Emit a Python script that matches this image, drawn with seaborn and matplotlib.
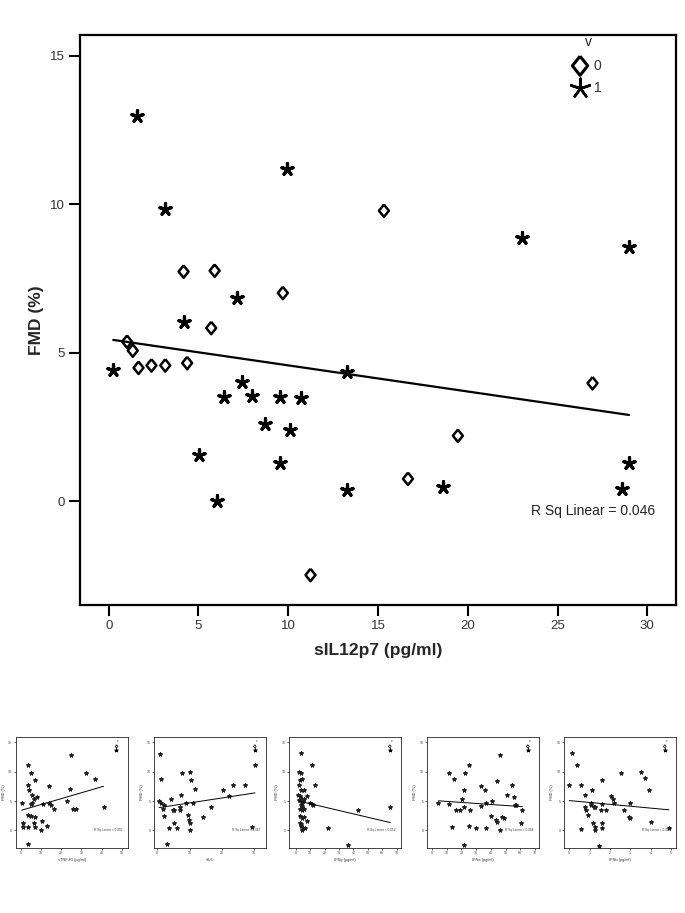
import matplotlib
matplotlib.use("Agg")
import matplotlib.pyplot as plt
import numpy as np
import pandas as pd
import seaborn as sns

# main panel: sIL12p7 vs FMD, split by v
star_x = [0.25, 1.56, 3.15, 4.22, 5.04, 6.05, 6.4, 7.17, 7.44, 7.97, 8.68, 9.55,
          9.55, 9.95, 10.12, 10.72, 13.28, 13.3, 18.6, 23.0, 28.6, 28.98, 28.98]
star_y = [4.42, 12.96, 9.83, 6.03, 1.56, 0.0, 3.5, 6.85, 4.0, 3.53, 2.6, 3.52,
          1.29, 11.2, 2.38, 3.46, 4.35, 0.38, 0.49, 8.86, 0.40, 1.28, 8.55]
diam_x = [1.02, 1.34, 1.66, 2.38, 3.15, 4.17, 4.37, 5.71, 5.9, 9.7, 11.24,
          15.33, 16.67, 19.45, 26.95]
diam_y = [5.37, 5.07, 4.49, 4.57, 4.57, 7.73, 4.65, 5.83, 7.76, 7.01, -2.49,
          9.78, 0.75, 2.2, 3.97]

# small panels (values read roughly off the thumbnails)
p1_x = [25.1, 3.9, 4.9, 7.0, 3.6, 13.9, 4.2, 24.3, 32.4, 36.6, 5.5, 7.9, 6.8, 0.6,
        4.9, 5.8, 11.0, 14.2, 15.0, 16.3, 22.7, 25.6, 27.5, 40.9, 3.7, 5.0, 7.0,
        1.1, 6.6, 10.7, 13.1, 1.0, 3.6, 7.1, 10.2, 3.9]
p1_y = [12.9, 11.1, 9.8, 8.6, 7.7, 7.6, 6.8, 7.0, 9.7, 8.8, 6.0, 5.7, 5.4, 4.6,
        4.5, 4.6, 4.5, 4.6, 4.3, 3.6, 5.0, 3.6, 3.6, 4.0, 2.6, 2.4, 2.3,
        1.3, 1.3, 1.6, 0.75, 0.5, 0.6, 0.5, 0.06, -2.4]
p2_x = [1.0, 1.25, 0.6, 1.15, 1.9, 2.1, 2.2, 2.9, 3.5, 4.4, 4.8, 5.2, 5.3, 6.25,
        7.1, 7.1, 7.3, 7.8, 9.0, 9.5, 9.7, 10.0, 10.2, 10.3, 10.2, 11.0, 11.6,
        14.2, 16.5, 20.4, 22.1, 23.3, 27.2, 29.3, 30.2]
p2_y = [13.0, 8.8, 5.0, 4.6, 3.6, 2.4, 4.4, -2.4, 0.35, 5.4, 3.45, 3.45, 1.3, 0.4,
        3.45, 4.0, 6.1, 9.8, 4.6, 2.6, 1.7, 1.2, 9.9, 8.5, 0.06, 4.6, 7.0,
        2.2, 4.0, 6.8, 5.8, 7.8, 7.7, 0.5, 11.2]
p3_x = [3.9, 11.0, 2.3, 3.7, 4.6, 2.8, 2.3, 3.9, 5.5, 13.3, 1.8, 3.0, 4.4, 6.0,
        7.8, 2.3, 3.2, 4.1, 5.1, 3.7, 4.6, 3.2, 4.1, 5.7, 9.7, 11.0, 12.0, 2.8,
        4.1, 5.5, 7.8, 3.2, 3.4, 3.7, 5.1, 6.7, 4.1, 22.5, 36.1, 43.4, 65.5]
p3_y = [13.1, 11.2, 9.9, 9.8, 8.8, 8.5, 7.7, 6.9, 6.8, 7.7, 6.1, 5.9, 5.4, 5.3,
        5.9, 5.1, 5.1, 4.7, 5.0, 4.4, 4.2, 3.6, 3.4, 3.7, 4.6, 4.45, 4.3, 2.4,
        2.1, 2.3, 1.56, 1.3, 1.1, 0.7, 0.35, 0.35, 0.1, 0.46, -2.5, 3.5, 4.0]
p4_x = [4.3, 11.6, 15.2, 25.2, 22.5, 11.8, 13.9, 16.4, 18.9, 20.7, 21.8, 21.6,
        25.2, 25.7, 30.0, 33.2, 33.6, 36.1, 36.8, 36.4, 39.8, 40.9, 43.4, 44.1,
        44.3, 46.1, 46.4, 47.3, 49.1, 50.9, 54.5, 55.5, 56.4, 57.3, 60.5, 61.4, 21.8]
p4_y = [4.6, 9.8, 8.8, 11.1, 9.7, 4.45, 0.5, 3.5, 3.5, 5.3, 6.9, 4.0,
        0.75, 3.4, 0.4, 4.1, 7.6, 6.8, 0.4, 4.6, 2.5, 5.0, 1.7, 1.4,
        8.4, 12.9, 0.06, 2.25, 2.1, 6.0, 7.7, 5.7, 4.3, 4.3, 1.3, 3.4, -2.5]
p5_x = [0.11, 0.38, 0.0, 0.56, 0.77, 1.11, 1.62, 0.79, 0.82, 0.9, 1.05, 1.08, 1.2,
        1.25, 1.57, 1.62, 1.79, 2.07, 2.16, 2.21, 2.52, 2.69, 2.98, 2.92, 2.98,
        3.52, 3.74, 3.9, 4.0, 4.9, 1.15, 1.25, 1.25, 1.6, 1.6, 0.57, 1.44]
p5_y = [13.1, 11.2, 7.8, 7.7, 6.0, 6.8, 8.6, 3.9, 3.5, 2.6, 4.35, 4.6, 4.0,
        4.0, 3.5, 4.5, 3.5, 5.8, 5.3, 4.6, 9.8, 3.5, 4.7, 2.2, 2.1,
        9.9, 8.9, 6.9, 1.5, 0.35, 1.3, 0.65, 0.0, 1.3, 0.47, 0.3, -2.6]

small_xlabels = ["sTNF-RI (pg/ml)", "sIL6", "IFNg (pg/ml)", "IFNa (pg/ml)", "IFNb (pg/ml)"]
small_r2 = ["0.092", "0.067", "0.052", "0.004", "0.014"]
small_xticks = [[0, 10, 20, 30, 40, 50], [0, 10, 20, 30], [0, 10, 20, 30, 40, 50, 60, 70],
                [0, 10, 20, 30, 40, 50, 60, 70], [0, 1, 2, 3, 4, 5]]
small_xlim = [(-2.4, 52.8), (-1.0, 33.6), (-4.6, 72.9), (-3.4, 72.7), (-0.26, 5.25)]

sns.set_style("white")
plt.rcParams['font.family'] = ['Liberation Sans', 'DejaVu Sans']

# SPSS-like markers: open diamond and a five-armed asterisk
tall_diamond = [(0, 1), (0.8, 0), (0, -1), (-0.8, 0), (0, 1)]
asterisk = (5, 2, 0)

df = pd.DataFrame({
    "x": star_x + diam_x,
    "y": star_y + diam_y,
    "v": ["1"] * len(star_x) + ["0"] * len(diam_x),
})

fig = plt.figure(figsize=(6.85, 9.13), dpi=100)
ax = fig.add_axes([80 / 685, 1 - 605 / 913, 596 / 685, 570 / 913])

sns.regplot(data=df, x="x", y="y", scatter=False, ci=None, ax=ax,
            line_kws=dict(color="black", lw=1.6))
sns.scatterplot(data=df[df.v == "0"], x="x", y="y", marker=tall_diamond, s=80,
                facecolor="none", edgecolor="black", linewidth=1.8, ax=ax)
sns.scatterplot(data=df[df.v == "1"], x="x", y="y", marker=asterisk, s=70,
                color="black", edgecolor="black", linewidth=2.3, ax=ax)

ax.set_xlim(-1.6, 31.6)
ax.set_ylim(-3.5, 15.7)
ax.set_xticks([0, 5, 10, 15, 20, 25, 30])
ax.set_yticks([0, 5, 10, 15])
ax.tick_params(direction="out", length=8, width=1.5, labelsize=9.5, colors="black",
               labelcolor="#333333", left=True, bottom=True, pad=3)
for s in ax.spines.values():
    s.set_linewidth(1.6)
    s.set_color("black")
ax.set_xlabel("sIL12p7 (pg/ml)", fontsize=12.5, fontweight="bold", labelpad=8)
ax.set_ylabel("FMD (%)", fontsize=12.5, fontweight="bold", labelpad=4)
ax.text(0.965, 0.165, "R Sq Linear = 0.046", transform=ax.transAxes, ha="right",
        va="center", fontsize=10, color="#222222")

# legend
ax.text(0.853, 0.988, "v", transform=ax.transAxes, ha="center", va="center", fontsize=10)
ax.scatter([0.839], [0.946], marker=tall_diamond, s=190, facecolor="none",
           edgecolor="black", linewidth=2.2, transform=ax.transAxes)
ax.scatter([0.839], [0.907], marker=asterisk, s=200, color="black", linewidth=1.8,
           transform=ax.transAxes)
ax.text(0.862, 0.946, "0", transform=ax.transAxes, va="center", fontsize=10,
        color="#333333")
ax.text(0.862, 0.907, "1", transform=ax.transAxes, va="center", fontsize=10,
        color="#333333")

small_lefts = [15.7, 154, 289, 427, 564]
small_data = [(p1_x, p1_y), (p2_x, p2_y), (p3_x, p3_y), (p4_x, p4_y), (p5_x, p5_y)]
for i, (sx, sy) in enumerate(small_data):
    a = fig.add_axes([small_lefts[i] / 685, 1 - 848 / 913, 112 / 685, 111 / 913])
    sdf = pd.DataFrame({"x": sx, "y": sy})
    sns.regplot(data=sdf, x="x", y="y", scatter=False, ci=None, ax=a,
                line_kws=dict(color="black", lw=0.7))
    sns.scatterplot(data=sdf, x="x", y="y", marker=asterisk, s=6, color="#222222",
                    edgecolor="#222222", linewidth=0.9, ax=a)
    a.set_xlim(*small_xlim[i])
    a.set_ylim(-3.0, 15.9)
    a.set_xticks(small_xticks[i])
    a.set_yticks([0, 5, 10, 15])
    a.tick_params(direction="out", length=1.5, width=0.5, labelsize=2.6, pad=1,
                  left=True, bottom=True, labelcolor="#444444")
    for s in a.spines.values():
        s.set_linewidth(0.6)
    a.set_xlabel(small_xlabels[i], fontsize=2.8, labelpad=1.5, color="#333333")
    a.set_ylabel("FMD (%)", fontsize=2.8, labelpad=1.5, color="#333333")
    a.text(0.95, 0.15, "R Sq Linear = " + small_r2[i], transform=a.transAxes,
           ha="right", fontsize=2.3, color="#444444")
    a.scatter([0.9], [0.915], marker=tall_diamond, s=6, facecolor="none",
              edgecolor="black", linewidth=0.5, transform=a.transAxes)
    a.scatter([0.9], [0.88], marker=asterisk, s=6, color="black", linewidth=0.6,
              transform=a.transAxes)
    a.text(0.915, 0.955, "v", transform=a.transAxes, fontsize=2.2, ha="center")

fig.savefig("out.png", dpi=100)
